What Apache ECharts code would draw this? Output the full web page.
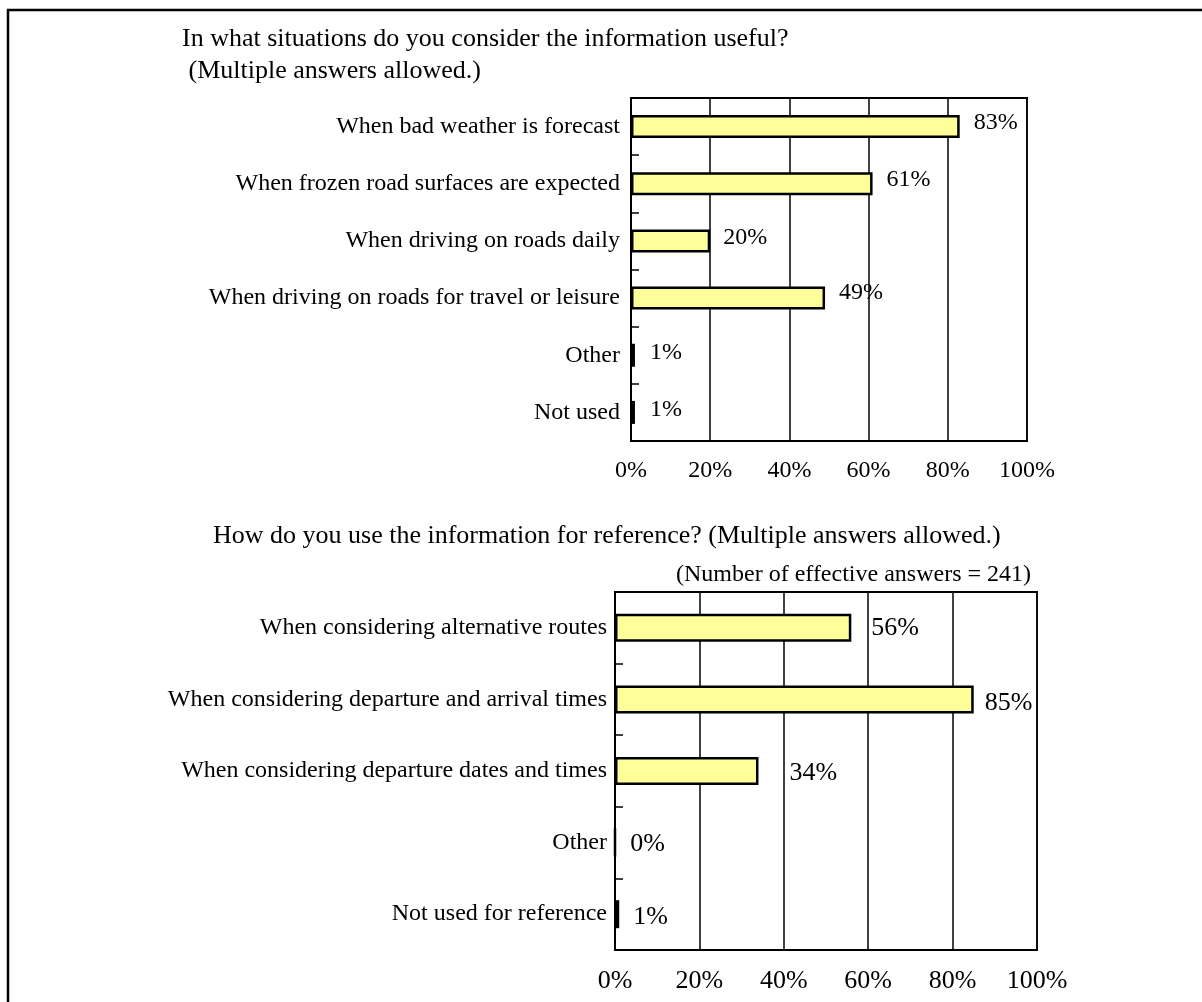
<!DOCTYPE html>
<html>
<head>
<meta charset="utf-8">
<script src="https://cdn.jsdelivr.net/npm/echarts@6/dist/echarts.min.js"></script>
<style>
html,body{margin:0;padding:0;background:#fff;}
#chart{width:1202px;height:1002px;}
</style>
</head>
<body>
<div id="chart"></div>
<script>
// ---- data ----
const topTitle = 'In what situations do you consider the information useful?\n (Multiple answers allowed.)';
const topCategories = [
  'When bad weather is forecast',
  'When frozen road surfaces are expected',
  'When driving on roads daily',
  'When driving on roads for travel or leisure',
  'Other',
  'Not used'
];
const topValues = [83, 61, 20, 49, 1, 1];

const bottomTitle = 'How do you use the information for reference? (Multiple answers allowed.)';
const bottomNote = '(Number of effective answers = 241)';
const bottomCategories = [
  'When considering alternative routes',
  'When considering departure and arrival times',
  'When considering departure dates and times',
  'Other',
  'Not used for reference'
];
const bottomValues = [56, 85, 34, 0, 1];

const xTickValues = [0, 20, 40, 60, 80, 100];

// ---- label placement (style only) ----
const topLabelOffsets = [[14, -4], [14, -4], [13, -3], [14, -5], [15, -3], [15, -3]];
const bottomLabelOffsets = [[20, 0], [11, 4], [31, 2], [14, 2], [14, 3]];

const FONT = '"Liberation Serif", "Times New Roman", serif';
const FILL = '#FFFF99';

function items(values, offsets) {
  return values.map((v, i) => ({ value: v, label: { offset: offsets[i] } }));
}

const chart = echarts.init(document.getElementById('chart'), null, { renderer: 'canvas' });

const xAxisBase = (gridIndex, fs) => ({
  type: 'value',
  gridIndex: gridIndex,
  min: xTickValues[0],
  max: xTickValues[xTickValues.length - 1],
  interval: xTickValues[1] - xTickValues[0],
  axisLine: { show: true, lineStyle: { color: '#000', width: 2 } },
  axisTick: { show: false },
  axisLabel: { color: '#000', fontFamily: FONT, fontSize: fs, margin: 18, formatter: '{value}%' },
  splitLine: { show: true, lineStyle: { color: '#111', width: 1.6 } }
});

const yAxisBase = (gridIndex, cats, margin) => ({
  type: 'category',
  gridIndex: gridIndex,
  data: cats,
  inverse: true,
  axisLine: { show: true, lineStyle: { color: '#000', width: 2 } },
  axisTick: { show: true, inside: true, length: 8, lineStyle: { color: '#000', width: 1.5 } },
  axisLabel: { color: '#000', fontFamily: FONT, fontSize: 24, margin: margin },
  splitLine: { show: false }
});

chart.setOption({
  backgroundColor: '#fff',
  animation: false,
  title: [
    { text: topTitle, left: 177, top: 18,
      textStyle: { fontFamily: FONT, fontSize: 26, fontWeight: 'normal', color: '#000', lineHeight: 32 } },
    { text: bottomTitle, left: 208, top: 518,
      textStyle: { fontFamily: FONT, fontSize: 26, fontWeight: 'normal', color: '#000' } },
    { text: bottomNote, right: 166, top: 558,
      textStyle: { fontFamily: FONT, fontSize: 24, fontWeight: 'normal', color: '#000' } }
  ],
  graphic: [
    { type: 'rect', shape: { x: 8, y: 10, width: 1196, height: 1000 },
      style: { fill: 'none', stroke: '#000', lineWidth: 2.5 }, silent: true, z: 100 }
  ],
  grid: [
    { left: 631, top: 98, width: 396, height: 343, show: true, borderColor: '#000', borderWidth: 2, containLabel: false },
    { left: 615, top: 592, width: 422, height: 358, show: true, borderColor: '#000', borderWidth: 2, containLabel: false }
  ],
  xAxis: [xAxisBase(0, 24), xAxisBase(1, 26)],
  yAxis: [yAxisBase(0, topCategories, 11), yAxisBase(1, bottomCategories, 8)],
  series: [
    {
      type: 'bar', xAxisIndex: 0, yAxisIndex: 0,
      data: items(topValues, topLabelOffsets),
      barWidth: 23,
      itemStyle: { color: FILL, borderColor: '#000', borderWidth: 2.5 },
      label: { show: true, position: 'right', distance: 0, formatter: '{c}%',
        color: '#000', fontFamily: FONT, fontSize: 24 }
    },
    {
      type: 'bar', xAxisIndex: 1, yAxisIndex: 1,
      data: items(bottomValues, bottomLabelOffsets),
      barWidth: 28,
      itemStyle: { color: FILL, borderColor: '#000', borderWidth: 2.5 },
      label: { show: true, position: 'right', distance: 0, formatter: '{c}%',
        color: '#000', fontFamily: FONT, fontSize: 26 }
    }
  ]
});
</script>
</body>
</html>
